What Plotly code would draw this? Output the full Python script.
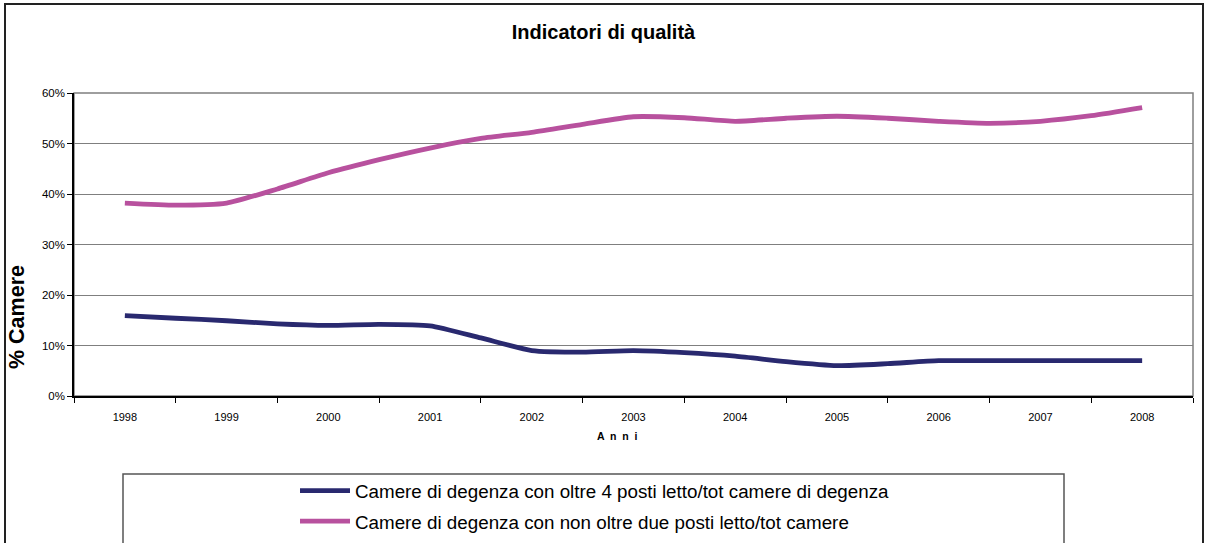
import plotly.graph_objects as go

# ---- data ----
years = [1998, 1999, 2000, 2001, 2002, 2003, 2004, 2005, 2006, 2007, 2008]
year_labels = ["1998", "1999", "2000", "2001", "2002", "2003", "2004", "2005", "2006", "2007", "2008"]
periods = [1998, 1998.5, 1999, 1999.5, 2000, 2000.5, 2001, 2001.5, 2002, 2002.5,
           2003, 2003.5, 2004, 2004.5, 2005, 2005.5, 2006, 2006.5, 2007, 2007.5, 2008]
oltre4 = [15.9, 15.4, 14.9, 14.3, 14.0, 14.2, 13.9, 11.5, 9.0, 8.7,
          9.0, 8.6, 7.9, 6.8, 6.0, 6.4, 7.0, 7.0, 7.0, 7.0, 7.0]
non_oltre2 = [38.2, 37.8, 38.2, 41.0, 44.2, 46.8, 49.1, 51.0, 52.2, 53.8,
              55.3, 55.1, 54.4, 55.0, 55.4, 55.0, 54.4, 54.0, 54.4, 55.5, 57.1]
series_names = ["Camere di degenza con oltre 4 posti letto/tot camere di degenza",
                "Camere di degenza con non oltre due posti letto/tot camere"]
y_ticks = [0, 10, 20, 30, 40, 50, 60]
y_tick_labels = ["0%", "10%", "20%", "30%", "40%", "50%", "60%"]

FONT = "Arial, Liberation Sans, sans-serif"
W, H = 1207, 543
L, R, T, B = 74, 14, 93, 147
PW, PH = W - L - R, H - T - B


def px_x(px):
    return (px - L) / PW


def px_y(py):
    return (H - B - py) / PH


fig = go.Figure()
fig.add_trace(go.Scatter(x=periods, y=oltre4, mode="lines", name=series_names[0],
                         legendgroup="a",
                         line=dict(color="#29296F", width=4.8, shape="spline", smoothing=0.6)))
fig.add_trace(go.Scatter(x=periods, y=non_oltre2, mode="lines", name=series_names[1],
                         legendgroup="b",
                         line=dict(color="#B8519E", width=4.8, shape="spline", smoothing=0.6)))

boundaries = [y - 0.5 for y in years] + [years[-1] + 0.5]

fig.update_layout(
    width=W, height=H,
    margin=dict(l=L, r=R, t=T, b=B, autoexpand=False),
    paper_bgcolor="white", plot_bgcolor="white",
    font=dict(family=FONT, color="#000000"),
    title=dict(text="<b>Indicatori di qualità</b>", x=0.5, xanchor="center",
               y=1 - 32 / H, yanchor="middle", font=dict(size=20, family=FONT, color="#000")),
    xaxis=dict(range=[years[0] - 0.5, years[-1] + 0.5], tickmode="array",
               tickvals=years, ticktext=year_labels, ticks="", showgrid=False,
               showline=True, linecolor="#000000", linewidth=1.5, automargin=False,
               tickfont=dict(size=11, family=FONT, color="#000"),
               ticklabelstandoff=10, zeroline=False,
               minor=dict(tickmode="array", tickvals=boundaries, ticks="outside",
                          ticklen=5, tickcolor="#000000", tickwidth=1, showgrid=False)),
    yaxis=dict(range=[0, 60], tickmode="array", tickvals=y_ticks, ticktext=y_tick_labels,
               ticks="outside", ticklen=5, tickcolor="#000000", automargin=False,
               showgrid=True, gridcolor="#7F7F7F", gridwidth=1,
               showline=True, linecolor="#000000", linewidth=1.5, zeroline=False,
               tickfont=dict(size=11.5, family=FONT, color="#000")),
    legend=dict(x=px_x(295), y=px_y(472), xanchor="left", yanchor="top",
                orientation="v", bgcolor="rgba(0,0,0,0)", borderwidth=0,
                font=dict(size=18.8, family=FONT, color="#000"),
                tracegroupgap=3, itemwidth=50),
    showlegend=True,
)

# plot-area border (grey), outer chart frame and legend box
fig.add_shape(type="rect", xref="paper", yref="paper", x0=0, x1=1, y0=0, y1=1,
              line=dict(color="#7F7F7F", width=1.5), layer="below")
fig.add_shape(type="rect", xref="paper", yref="paper", x0=px_x(5), x1=px_x(1203),
              y0=px_y(560), y1=px_y(4), line=dict(color="#222222", width=2))
fig.add_shape(type="rect", xref="paper", yref="paper", x0=px_x(123), x1=px_x(1064),
              y0=px_y(560), y1=px_y(474), line=dict(color="#555555", width=1.5))

fig.add_annotation(text="<b>A  n  n  i</b>", xref="paper", yref="paper",
                   x=px_x(617), y=px_y(436), showarrow=False,
                   font=dict(size=10.5, family=FONT, color="#000"),
                   xanchor="center", yanchor="middle")
fig.add_annotation(text="<b>% Camere</b>", xref="paper", yref="paper",
                   x=px_x(17), y=px_y(317), showarrow=False, textangle=-90,
                   font=dict(size=21.5, family=FONT, color="#000"),
                   xanchor="center", yanchor="middle")

# remove the browser's default page margin so the figure sits at the window's corner
fig.write_html("out.html", config={"displayModeBar": False},
               post_script="document.body.style.margin='0';")
